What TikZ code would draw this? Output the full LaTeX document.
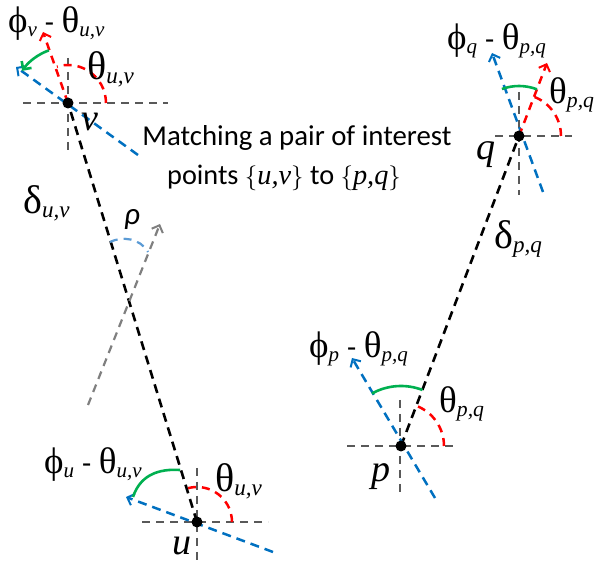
\documentclass[tikz,border=0pt]{standalone}
\usepackage{fontspec}
\setmainfont{Liberation Serif}
\newfontfamily\calibri{Carlito}
\usetikzlibrary{arrows.meta}
\definecolor{myblue}{RGB}{0,112,192}
\definecolor{myred}{RGB}{255,0,0}
\definecolor{mygreen}{RGB}{0,176,80}
\definecolor{axgray}{RGB}{89,89,89}
\definecolor{rhogray}{RGB}{127,127,127}
\definecolor{rhoblue}{RGB}{91,155,213}
\newcommand\gk[2]{{\fontsize{#1}{#1}\selectfont #2}}
\begin{document}
\begin{tikzpicture}[x=1pt,y=1pt,
  axisline/.style={draw=axgray, line width=2.2pt, dash pattern=on 8pt off 6pt},
  connline/.style={draw=black, line width=2.6pt, dash pattern=on 9pt off 6pt},
  tip/.style={-{Straight Barb[length=6pt,width=12pt,line width=2pt]}},
  orient/.style={draw=myblue, line width=2.5pt, dash pattern=on 9pt off 6pt, tip},
  redline/.style={draw=myred, line width=2.5pt, dash pattern=on 8pt off 6pt},
  greenarc/.style={draw=mygreen, line width=2.6pt},
  dot/.style={circle, fill=black, inner sep=0pt, minimum size=11pt},
  lbl/.style={anchor=base west, inner sep=0pt},
  difflbl/.style={lbl, font=\fontsize{30}{34}\selectfont},
]
\useasboundingbox (0,0) rectangle (597,562);
% key points
\coordinate (v) at (68,459);
\coordinate (u) at (197,40);
\coordinate (p) at (401,116);
\coordinate (q) at (519,426);
% axes
\coordinate (vl) at (23,459); \coordinate (vr) at (168,459);
\coordinate (vt) at (68,504); \coordinate (vb) at (68,410);
\coordinate (ul) at (142,40); \coordinate (ur) at (268,40);
\coordinate (ut) at (197,94); \coordinate (ub) at (197,0);
\coordinate (pl) at (347,116); \coordinate (pr) at (457,116);
\coordinate (pt) at (400,162); \coordinate (pb) at (400,65);
\coordinate (ql) at (495,426); \coordinate (qr) at (572,426);
\coordinate (qt) at (519,470); \coordinate (qb) at (519,367);
\draw[axisline] (vl) -- (vr); \draw[axisline] (vt) -- (vb);
\draw[axisline] (ul) -- (ur); \draw[axisline] (ut) -- (ub);
\draw[axisline] (pl) -- (pr); \draw[axisline] (pt) -- (pb);
\draw[axisline] (ql) -- (qr); \draw[axisline] (qt) -- (qb);
% connecting lines
\draw[connline] (u) -- (v);
\draw[connline] (p) -- (q);
% blue orientation lines
\coordinate (vb1) at (138,407); \coordinate (vb2) at (16,495);
\coordinate (ub1) at (273,10); \coordinate (ub2) at (126,65);
\coordinate (pb1) at (435,64); \coordinate (pb2) at (352,204);
\coordinate (qb1) at (543,370); \coordinate (qb2) at (492,509);
\draw[orient] (vb1) -- (vb2);
\draw[orient] (ub1) -- (ub2);
\draw[orient] (pb1) -- (pb2);
\draw[orient] (qb1) -- (qb2);
% red arrows and arcs
\coordinate (vr2) at (43,530);
\coordinate (qr2) at (547,499);
\draw[redline, tip] (v) -- (vr2);
\draw[redline, tip] (q) -- (qr2);
\draw[redline] ([shift={(0:38)}]v) arc[start angle=0, end angle=107, radius=38];
\draw[redline] ([shift={(0:42)}]q) arc[start angle=0, end angle=69, radius=42];
\draw[redline] ([shift={(0:35)}]u) arc[start angle=0, end angle=106, radius=35];
\draw[redline] ([shift={(0:43)}]p) arc[start angle=0, end angle=69, radius=43];
% green arcs
\draw[greenarc, -{Straight Barb[length=6pt,width=12pt]}] ([shift={(110:56)}]v) arc[start angle=110, end angle=145, radius=56];
\coordinate (ug1) at (180,92); \coordinate (ug2) at (133,65);
\draw[greenarc] (ug1) .. controls (150,94) and (138,80) .. (ug2);
\draw[greenarc] ([shift={(110:50)}]q) arc[start angle=110, end angle=69, radius=50];
\draw[greenarc] ([shift={(119:60)}]p) arc[start angle=119, end angle=69, radius=60];
% rho
\coordinate (r1) at (88,157); \coordinate (r2) at (160,338);
\draw[draw=rhogray, line width=2.2pt, dash pattern=on 8pt off 6pt, tip] (r1) -- (r2);
\coordinate (ra) at (110,320); \coordinate (rb) at (148,310);
\draw[draw=rhoblue, line width=2.2pt, dash pattern=on 8pt off 6pt] (ra) .. controls (122,326) and (140,324) .. (rb);
% dots
\node[dot] (dv) at (v) {};
\node[dot] (du) at (u) {};
\node[dot] (dp) at (p) {};
\node[dot] (dq) at (q) {};
% labels
\node[difflbl] (l1) at (8,529) {\gk{37}{ϕ}\textsubscript{\itshape v} {\calibri -} \gk{37}{θ}\textsubscript{\itshape u,v}};
\node[lbl, font=\fontsize{33}{38}\selectfont] (l2) at (87,482) {\gk{40}{θ}\textsubscript{\itshape u,v}};
\node[lbl, font=\fontsize{38}{40}\selectfont\itshape] (l3) at (81,431) {v};
\node[lbl, font=\fontsize{33}{38}\selectfont] (l4) at (23,348) {\gk{40}{δ}\textsubscript{\itshape u,v}};
\node[lbl, font=\fontsize{31}{34}\selectfont\calibri\itshape] (l5) at (124,337) {ρ};
\node[anchor=base, inner sep=0pt, font=\fontsize{28.8}{32}\selectfont\calibri] (l6) at (297,416) {Matching a pair of interest};
\node[anchor=base, inner sep=0pt, font=\fontsize{28.3}{32}\selectfont\calibri] (l7) at (284,377) {points $\{$\textrm{\itshape u,v}$\}$ to $\{$\textrm{\itshape p,q}$\}$};
\node[difflbl] (l8) at (447,512) {\gk{37}{ϕ}\textsubscript{\itshape q} {\calibri -} \gk{37}{θ}\textsubscript{\itshape p,q}};
\node[lbl, font=\fontsize{31}{36}\selectfont] (l9) at (549,458) {\gk{37}{θ}\textsubscript{\itshape p,q}};
\node[lbl, font=\fontsize{38}{40}\selectfont\itshape] (l10) at (476,402) {q};
\node[lbl, font=\fontsize{33}{38}\selectfont] (l11) at (494,313) {\gk{40}{δ}\textsubscript{\itshape p,q}};
\node[difflbl] (l12) at (309,204) {\gk{37}{ϕ}\textsubscript{\itshape p} {\calibri -} \gk{37}{θ}\textsubscript{\itshape p,q}};
\node[lbl, font=\fontsize{31}{36}\selectfont] (l13) at (439,149) {\gk{37}{θ}\textsubscript{\itshape p,q}};
\node[lbl, font=\fontsize{38}{40}\selectfont\itshape] (l14) at (371,80) {p};
\node[difflbl] (l15) at (44,88) {\gk{37}{ϕ}\textsubscript{\itshape u} {\calibri -} \gk{37}{θ}\textsubscript{\itshape u,v}};
\node[lbl, font=\fontsize{33}{38}\selectfont] (l16) at (215,70) {\gk{40}{θ}\textsubscript{\itshape u,v}};
\node[lbl, font=\fontsize{38}{40}\selectfont\itshape] (l17) at (172,7) {u};
\end{tikzpicture}
\end{document}
